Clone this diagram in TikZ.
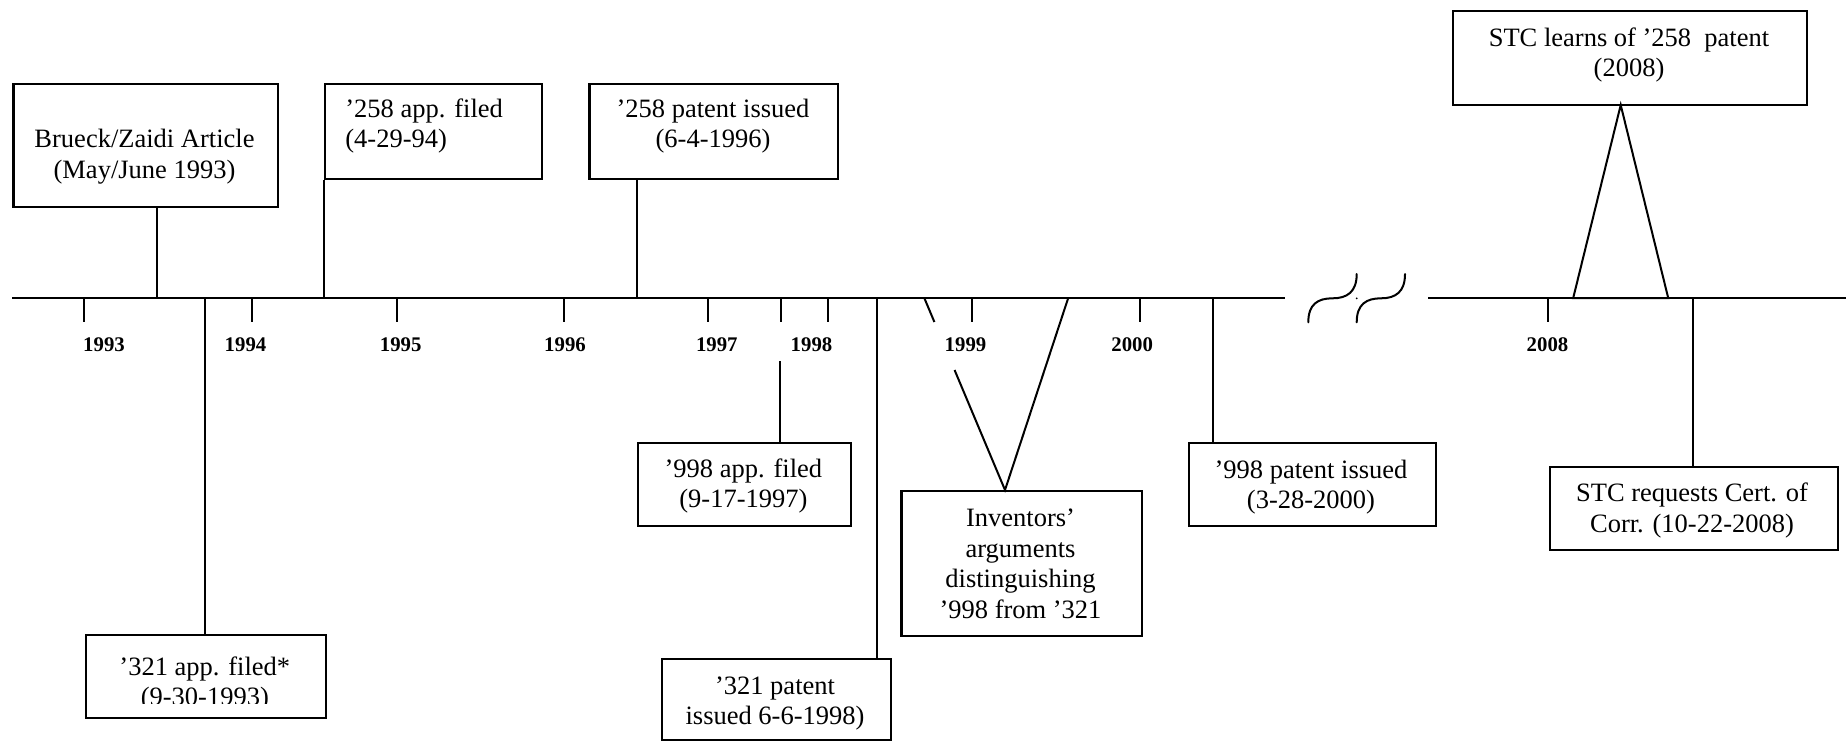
\documentclass[tikz,border=0pt]{standalone}
\usepackage{fontspec}
\setmainfont{Liberation Serif}
\usetikzlibrary{calc}
\newcommand{\twolines}[2]{\begin{tabular}[t]{@{}c@{}}#1\\#2\end{tabular}}
\begin{document}
\begin{tikzpicture}[x=1pt,y=-1pt,
  box/.style={draw, line width=2.2pt, inner sep=0pt, anchor=north west},
  conn/.style={line width=2pt},
  tickmark/.style={line width=2pt},
  txt/.style={inner sep=0pt, anchor=base, font=\fontsize{26.5}{30.5}\selectfont},
  yr/.style={inner sep=0pt, anchor=base, font=\fontsize{20.8}{24}\selectfont\bfseries}]
\useasboundingbox (0,0) rectangle (1846,740);

% timeline
\coordinate (tl0) at (12,298);
\coordinate (tl1) at (1285,298);
\coordinate (tr0) at (1428,298);
\coordinate (tr1) at (1846,298);
\draw[conn] (tl0) -- (tl1);
\draw[conn] (tr0) -- (tr1);

% break symbol
\draw[conn, line cap=round] (1308.3,322.3) .. controls (1308.3,304) and (1318,298.3) .. (1332.5,298.3)
  .. controls (1347,298.3) and (1356.7,292) .. (1356.7,274);
\draw[conn, line cap=round] (1356.7,322.3) .. controls (1356.7,304) and (1366.5,298.3) .. (1381,298.3)
  .. controls (1395.5,298.3) and (1405,292) .. (1405,274);
\fill (1356.7,298.3) circle (1pt);

% ticks
\foreach \x in {84.2,252.3,396.6,564.2,708.4,780.5,828.3,972.3,1140.2,1548}
  \draw[tickmark] (\x,298) -- (\x,322);

% year labels
\node[yr] (y1993) at (104,351.7) {1993};
\node[yr] (y1994) at (245.5,351.7) {1994};
\node[yr] (y1995) at (400.7,351.7) {1995};
\node[yr] (y1996) at (565,351.7) {1996};
\node[yr] (y1997) at (716.8,351.7) {1997};
\node[yr] (y1998) at (811.5,351.7) {1998};
\node[yr] (y1999) at (965.5,351.7) {1999};
\node[yr] (y2000) at (1132.2,351.7) {2000};
\node[yr] (y2008) at (1547.5,351.7) {2008};

% boxes
\node[box, minimum width=264.5pt, minimum height=123.3pt] (brueck) at (12.3,82.7) {};
\node[box, minimum width=216.7pt, minimum height=95.3pt] (app258) at (324.2,82.7) {};
\node[box, minimum width=248.8pt, minimum height=95.3pt] (pat258) at (588.4,82.7) {};
\node[box, minimum width=354pt, minimum height=94pt] (stc1) at (1452.2,10) {};
\node[box, minimum width=240.5pt, minimum height=83pt] (app321) at (84.5,634) {};
\node[box, minimum width=213.5pt, minimum height=82.7pt] (app998) at (636.6,442) {};
\node[box, minimum width=228.9pt, minimum height=81pt] (pat321) at (660.6,658) {};
\node[box, minimum width=240.3pt, minimum height=144.7pt] (inv) at (900.3,490) {};
\node[box, minimum width=246.5pt, minimum height=83pt] (pat998) at (1188,441.7) {};
\node[box, minimum width=288.3pt, minimum height=82.7pt] (stc2) at (1548.5,466) {};

% box texts
\node[txt] (tBrueck) at (144.5,147.7) {\twolines{Brueck/Zaidi Article}{(May/June 1993)}};
\node[txt, anchor=base west] (tApp258) at (345.2,117.3) {\begin{tabular}[t]{@{}l@{}}’258 app. filed\\(4-29-94)\end{tabular}};
\node[txt] (tPat258) at (713,117.3) {\twolines{’258 patent issued}{(6-4-1996)}};
\node[txt] (tStc1) at (1629,46) {\twolines{STC learns of ’258~~patent}{(2008)}};
\begin{scope}
\clip (84.5,634) rectangle (325,703.5);
\node[txt] (tApp321) at (204.8,675) {\twolines{’321 app. filed*}{(9-30-1993)}};
\end{scope}
\node[txt] (tApp998) at (743.4,477.3) {\twolines{’998 app. filed}{(9-17-1997)}};
\node[txt] (tPat321) at (775,694) {\twolines{’321 patent}{issued 6-6-1998)}};
\node[txt] (tInv) at (1020.5,526.7) {\begin{tabular}[t]{@{}c@{}}Inventors’\\arguments\\distinguishing\\’998 from ’321\end{tabular}};
\node[txt] (tPat998) at (1311,478.3) {\twolines{’998 patent issued}{(3-28-2000)}};
\node[txt] (tStc2) at (1692,501.7) {\twolines{STC requests Cert. of}{Corr. (10-22-2008)}};

% connectors
\coordinate (cBrueck) at (157,298);
\draw[conn] (cBrueck) -- (cBrueck |- brueck.south);
\coordinate (cApp258) at (324.2,298);
\draw[conn] (cApp258) -- (app258.south west);
\coordinate (cPat258) at (636.8,298);
\draw[conn] (cPat258) -- (cPat258 |- pat258.south);
\coordinate (cApp321) at (204.7,298);
\draw[conn] (cApp321) -- (cApp321 |- app321.north);
\coordinate (cApp998) at (780.3,361);
\draw[conn] (cApp998) -- (cApp998 |- app998.north);
\coordinate (cPat321) at (876.7,298);
\draw[conn] (cPat321) -- (cPat321 |- pat321.north);
\coordinate (cPat998) at (1212.7,298);
\draw[conn] (cPat998) -- (cPat998 |- pat998.north);
\coordinate (cStc2) at (1692.5,298);
\draw[conn] (cStc2) -- (cStc2 |- stc2.north);

% STC learns triangle
\coordinate (stcL) at (1573.2,298);
\coordinate (stcR) at (1668.2,298);
\coordinate (stcApex) at (1620.7,105);
\draw[conn] (stcL) -- (stcApex) -- (stcR) -- cycle;

% inventors V
\coordinate (vL) at (924.3,298);
\coordinate (vR) at (1068.2,298);
\coordinate (vApex) at (inv.north -| 1005,0);
\draw[conn] (vL) -- ($(vL)!0.125!(vApex)$);
\draw[conn] ($(vL)!0.375!(vApex)$) -- (vApex) -- (vR);
\draw[conn] (vL) -- (vR);
\end{tikzpicture}
\end{document}
